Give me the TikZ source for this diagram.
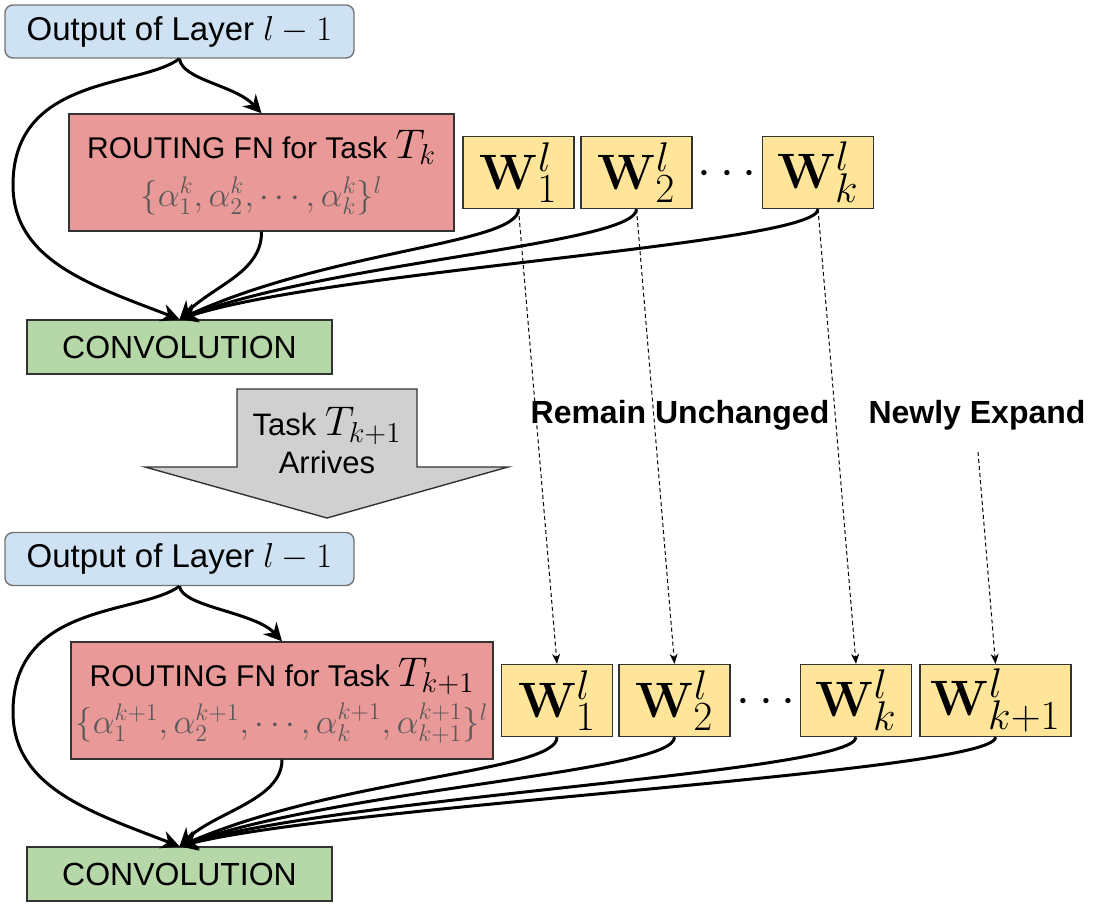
\documentclass[tikz,border=0pt]{standalone}
\usepackage[no-math]{fontspec}
\setmainfont{Liberation Sans}
\usetikzlibrary{arrows.meta}
\definecolor{layerblue}{HTML}{CFE2F3}
\definecolor{routered}{HTML}{EA9999}
\definecolor{weightyellow}{HTML}{FFE599}
\definecolor{convgreen}{HTML}{B6D7A8}
\definecolor{arrowgray}{HTML}{D0D0D0}

\begin{document}
\begin{tikzpicture}[x=0.5pt,y=-0.5pt,
  layerbox/.style={draw=black!55, fill=layerblue, rounded corners=4pt, line width=0.7pt, minimum width=174.5pt, minimum height=26.5pt, inner sep=0pt, font=\fontsize{16.5}{19}\selectfont},
  routebox/.style={draw=black!80, fill=routered, line width=0.7pt, minimum height=58.5pt, inner sep=0pt, align=center, font=\fontsize{15}{17}\selectfont},
  wbox/.style={draw=black!80, fill=weightyellow, line width=0.7pt, minimum width=55.5pt, minimum height=36pt, inner sep=0pt, font=\fontsize{30}{32}\selectfont},
  convbox/.style={draw=black!80, fill=convgreen, line width=0.7pt, minimum width=152.5pt, minimum height=27pt, inner sep=0pt, font=\fontsize{16}{19}\selectfont},
  flow/.style={line width=1.5pt, -{Stealth[length=9pt,width=9pt]}},
  copyarrow/.style={line width=0.5pt, dash pattern=on 2pt off 1.5pt, -{Stealth[length=5pt,width=4pt]}},
  note/.style={font=\bfseries\fontsize{16}{19}\selectfont}]
\useasboundingbox (0,0) rectangle (1095,908);

\node[layerbox] (out1) at (179.5,31.5) {Output of Layer {\fontsize{19}{19}\selectfont$l-1$}};
\node[routebox, minimum width=192.5pt] (route1) at (261.5,172.5) {ROUTING FN for Task {\fontsize{21}{21}\selectfont$T_k$}\\[5pt]{\color{black!65}\fontsize{17}{17}\selectfont$\{\alpha_1^k,\alpha_2^k,\cdots,\alpha_k^k\}^l$}};
\node[wbox] (w11) at (518.5,172.5) {$\mathbf{W}^l_1$};
\node[wbox] (w12) at (636.5,172.5) {$\mathbf{W}^l_2$};
\node[font=\fontsize{27}{30}\selectfont] (dots1) at (727,174) {$\cdots$};
\node[wbox] (w1k) at (818,172.5) {$\mathbf{W}^l_k$};
\node[convbox] (conv1) at (179.5,347) {CONVOLUTION};

\draw[draw=black!80, fill=arrowgray, line width=0.7pt] (237,389) -- (417,389) -- (417,467) -- (508,467) -- (327,518) -- (145,467) -- (237,467) -- cycle;
\node[font=\fontsize{15.5}{17}\selectfont] (taskname) at (327,426) {Task {\fontsize{21}{21}\selectfont$T_{k+1}$}};
\node[font=\fontsize{15.5}{17}\selectfont] (arrives) at (327,462) {Arrives};

\node[note] (remain) at (680,415) {Remain Unchanged};
\node[note] (expand) at (977,415) {Newly Expand};
\coordinate (newtop) at (978,452);

\node[layerbox] (out2) at (179.5,559) {Output of Layer {\fontsize{19}{19}\selectfont$l-1$}};
\node[routebox, minimum width=211pt] (route2) at (282,700.5) {ROUTING FN for Task {\fontsize{21}{21}\selectfont$T_{k+1}$}\\[3pt]{\color{black!65}\fontsize{17}{17}\selectfont$\{\alpha_1^{k+1},\alpha_2^{k+1},\cdots,\alpha_k^{k+1},\alpha_{k+1}^{k+1}\}^l$}};
\node[wbox] (w21) at (557,700.5) {$\mathbf{W}^l_1$};
\node[wbox] (w22) at (674.5,700.5) {$\mathbf{W}^l_2$};
\node[font=\fontsize{27}{30}\selectfont] (dots2) at (766,702) {$\cdots$};
\node[wbox] (w2k) at (856,700.5) {$\mathbf{W}^l_k$};
\node[wbox, minimum width=75.5pt] (w2k1) at (995.5,700.5) {$\mathbf{W}^l_{k+1}$};
\node[convbox] (conv2) at (179.5,874) {CONVOLUTION};

\draw[flow] (out1.south) .. controls (140,88) and (13,75) .. (13,185) .. controls (13,260) and (90,285) .. (conv1.north);
\draw[flow] (out1.south) .. controls (182,80) and (235,85) .. (route1.north);
\draw[flow] (route1.south) .. controls (262,272) and (215,285) .. (conv1.north);
\foreach \w/\c in {w11/250,w12/262,w1k/270}
  \draw[flow] (\w.south) .. controls +(0,35) and (330,\c) .. (conv1.north);

\draw[flow] (out2.south) .. controls (140,615) and (13,602) .. (13,712) .. controls (13,787) and (90,812) .. (conv2.north);
\draw[flow] (out2.south) .. controls (182,607) and (255,612) .. (route2.north);
\draw[flow] (route2.south) .. controls (282,800) and (215,812) .. (conv2.north);
\foreach \w/\c in {w21/777,w22/789,w2k/797,w2k1/805}
  \draw[flow] (\w.south) .. controls +(0,35) and (340,\c) .. (conv2.north);

\foreach \a/\b in {w11/w21,w12/w22,w1k/w2k}
  \draw[copyarrow] (\a.south) -- (\b.north);
\draw[copyarrow] (newtop) -- (w2k1.north);
\end{tikzpicture}
\end{document}
